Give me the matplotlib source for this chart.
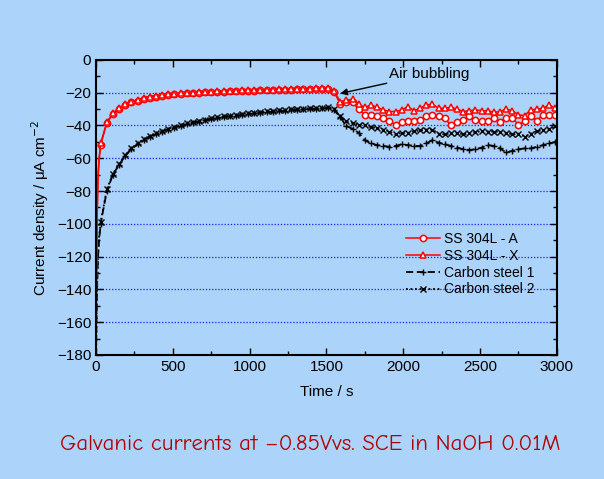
import matplotlib
matplotlib.use("Agg")
import matplotlib.pyplot as plt
from matplotlib.ticker import MultipleLocator
from matplotlib.lines import Line2D

time_s = [0, 3, 8, 13, 20, 30,
          70, 110, 150, 190, 230, 270, 310, 350, 390, 430, 470, 510, 550, 590,
          630, 670, 710, 750, 790, 830, 870, 910, 950, 990, 1030, 1070, 1110, 1150,
          1190, 1230, 1270, 1310, 1350, 1390, 1430, 1470, 1510, 1550, 1590, 1630,
          1670, 1710, 1750, 1790, 1830, 1870, 1910, 1950, 1990, 2030, 2070, 2110,
          2150, 2190, 2230, 2270, 2310, 2350, 2390, 2430, 2470, 2510, 2550, 2590,
          2630, 2670, 2710, 2750, 2790, 2830, 2870, 2910, 2950, 2990]

ss_a = [-180, -132, -92, -72, -61, -52,
        -38.5, -33, -30, -27.5, -26, -24.8, -23.8, -23, -22.4, -21.9, -21.5, -21.1, -20.8, -20.5,
        -20.3, -20.1, -19.9, -19.7, -19.5, -19.3, -19.2, -19.0, -18.9, -18.8, -18.7, -18.6, -18.5, -18.4,
        -18.3, -18.2, -18.1, -18.0, -17.9, -17.8, -17.7, -17.6, -17.5, -19.5, -27, -25.5,
        -25.5, -30, -33.5, -33.5, -34.5, -35.5, -37, -40, -38, -37.5, -37.5, -36.5,
        -34.5, -33.5, -34.5, -35.5, -40, -38, -36.5, -34.5, -36.5, -37.5, -37.5, -35.5,
        -38, -35.5, -35.5, -39.5, -37.5, -34.5, -37, -33.5, -33.5, -33.5]

ss_x = [-180, -130, -90, -71, -60, -51,
        -38, -32.5, -29.5, -27, -25.5, -24.3, -23.3, -22.6, -22, -21.5, -21.1, -20.8, -20.5, -20.2,
        -20, -19.8, -19.6, -19.4, -19.2, -19, -18.9, -18.8, -18.6, -18.5, -18.4, -18.3, -18.2, -18.1,
        -18, -17.9, -17.8, -17.7, -17.6, -17.5, -17.4, -17.3, -17.2, -19, -25.5, -24.5,
        -24, -27, -29, -27.5, -29, -30.5, -31.5, -31.5, -30.5, -28.5, -31, -29.5,
        -27.5, -27, -29.5, -29.5, -29, -30, -31.5, -31, -30.5, -31, -31, -32,
        -31.5, -30, -31, -33.5, -34, -30.5, -30, -29.5, -27.5, -29.5]

cs_1 = [-180, -160, -135, -120, -110, -100,
        -80, -70, -64, -58.5, -54.5, -51.5, -49, -47, -45.3, -43.8, -42.5, -41.3, -40.3, -39.3,
        -38.4, -37.6, -36.9, -36.2, -35.6, -35, -34.5, -34, -33.5, -33.1, -32.7, -32.3, -31.9, -31.6,
        -31.3, -31, -30.7, -30.4, -30.2, -30, -29.8, -29.6, -29.5, -30.5, -35, -40.5,
        -42, -44.5, -49, -51, -52, -52.5, -53, -52.5, -51.5, -52, -52.5, -52.5,
        -51, -49, -50.5, -51.5, -52.5, -53.5, -54.5, -55, -54.5, -53.5, -52, -52.5,
        -54, -56.5, -55.5, -54.5, -54, -54, -53, -52, -51, -50]

cs_2 = [-180, -158, -133, -119, -108, -99,
        -79, -69.5, -63.5, -58, -54, -51, -48.5, -46.5, -44.8, -43.3, -42, -40.8, -39.8, -38.8,
        -37.9, -37.1, -36.4, -35.7, -35.1, -34.5, -34, -33.5, -33, -32.6, -32.2, -31.8, -31.4, -31.1,
        -30.8, -30.5, -30.2, -29.9, -29.7, -29.5, -29.3, -29.1, -29, -30, -34.5, -37.5,
        -38.5, -39.5, -40, -41, -41.7, -42.5, -43.7, -45.5, -44.5, -44.5, -43.5, -43,
        -42.5, -42.5, -45, -45.5, -44.7, -44.5, -45.5, -44.7, -44, -43.5, -43.7, -43.8,
        -44, -44.5, -45.5, -45, -46.8, -45, -43.5, -43, -42, -40.5]

series_labels = ["SS 304L - A", "SS 304L - X", "Carbon steel 1", "Carbon steel 2"]

bg = "#acd3f9"
plt.rcParams['font.family'] = ['Liberation Sans', 'DejaVu Sans']

fig = plt.figure(figsize=(6.04, 4.79), dpi=100, facecolor=bg)
ax = fig.add_axes([0.159, 0.259, 0.763, 0.616])
ax.set_facecolor(bg)

red = "#ff0000"
me = slice(5, None)
style_cs1 = dict(color="black", lw=1.3, ls=(0, (4, 2)), marker="+", ms=5, mew=1.0)
style_cs2 = dict(color="black", lw=1.3, ls=(0, (1, 1.5)), marker="x", ms=4, mew=1.0)
style_a = dict(color=red, lw=1.1, marker="o", ms=4.5, mfc="white", mec=red, mew=1.1)
style_x = dict(color=red, lw=1.1, marker="^", ms=5, mfc="white", mec=red, mew=1.1)

ax.plot(time_s, cs_1, markevery=me, **style_cs1)
ax.plot(time_s, cs_2, markevery=me, **style_cs2)
ax.plot(time_s, ss_a, markevery=me, **style_a)
ax.plot(time_s, ss_x, markevery=me, **style_x)

ax.set_xlim(0, 3000)
ax.set_ylim(-180, 0)
ax.xaxis.set_major_locator(MultipleLocator(500))
ax.xaxis.set_minor_locator(MultipleLocator(250))
ax.yaxis.set_major_locator(MultipleLocator(20))
ax.yaxis.set_minor_locator(MultipleLocator(10))
ax.tick_params(which="both", direction="in", top=True, right=True, labelsize=11, colors="black")
ax.tick_params(which="major", length=5, width=1.0)
ax.tick_params(which="minor", length=3, width=1.0)
for s in ax.spines.values():
    s.set_linewidth(1.5)

for yv in range(-160, 0, 20):
    ax.axhline(yv, color="#1a1aff", lw=0.9, ls=(0, (1, 1.5)), zorder=0)

ax.set_xlabel("Time / s", fontsize=11, labelpad=8)
ax.set_ylabel("Current density / \u03bcA cm$^{-2}$", fontsize=11, labelpad=4)

ax.annotate("Air bubbling", xy=(1590, -20.5), xytext=(1910, -8.5),
            fontsize=11, ha="left", va="center",
            arrowprops=dict(arrowstyle="-|>", color="black", lw=1.0, mutation_scale=10,
                            shrinkA=0, shrinkB=0))

handles = [Line2D([], [], **style_a), Line2D([], [], **style_x),
           Line2D([], [], **style_cs1), Line2D([], [], **style_cs2)]
leg = ax.legend(handles, series_labels,
                loc="upper left", bbox_to_anchor=(0.66, 0.435), frameon=False,
                fontsize=10, handlelength=2.5, handletextpad=0.25, labelspacing=0.2,
                borderaxespad=0.0)

fig.text(0.513, 0.071, "Galvanic currents at \u20130.85Vvs. SCE in NaOH 0.01M",
         color="#b00000", fontsize=16.4, ha="center", va="center",
         family=["Comic Neue", "DejaVu Sans"])

fig.savefig("out.png", dpi=100, facecolor=bg)
